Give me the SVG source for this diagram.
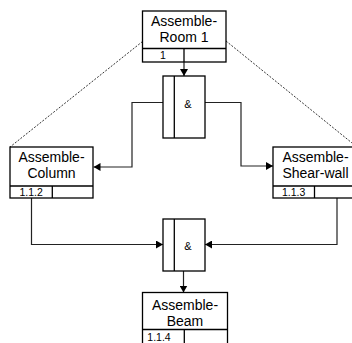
<svg xmlns="http://www.w3.org/2000/svg" width="352" height="343" viewBox="0 0 352 343">
  <defs>
    <marker id="arrow" viewBox="0 0 7 8" refX="7" refY="4" markerWidth="7" markerHeight="8" markerUnits="userSpaceOnUse" orient="auto">
      <path d="M0,0 L7,4 L0,8 Z" fill="#000"/>
    </marker>
  </defs>
  <style>
    .box{fill:#fff;stroke:#000;stroke-width:1.3}
    .rule{fill:none;stroke:#000;stroke-width:1.3}
    .label{font-family:"Liberation Sans",Arial,sans-serif;font-size:14px;text-anchor:middle;fill:#000}
    .num{font-family:"Liberation Sans",Arial,sans-serif;font-size:10.5px;text-anchor:middle;fill:#000}
    .amp{font-family:"Liberation Sans",Arial,sans-serif;font-size:11px;text-anchor:middle;fill:#000}
    .link{fill:none;stroke:#222;stroke-width:1.2}
    .dash{fill:none;stroke:#000;stroke-width:0.8;stroke-dasharray:2 1.5}
  </style>
  <rect width="352" height="343" fill="#fff"/>

  <!-- decomposition guides -->
  <g id="guides">
    <line class="dash" x1="142.5" y1="41.5" x2="10" y2="147"/>
    <line class="dash" x1="226" y1="41" x2="357" y2="147"/>
  </g>

  <!-- connectors -->
  <g id="connectors">
    <line class="link" x1="184" y1="62" x2="184" y2="76" marker-end="url(#arrow)"/>
    <polyline class="link" points="163,102.5 132,102.5 132,167 93.5,167" marker-end="url(#arrow)"/>
    <polyline class="link" points="205,102.5 241,102.5 241,166 273,166" marker-end="url(#arrow)"/>
    <polyline class="link" points="31.5,198 31.5,244.5 163,244.5" marker-end="url(#arrow)"/>
    <polyline class="link" points="337,198 337,244.5 205,244.5" marker-end="url(#arrow)"/>
    <line class="link" x1="183.5" y1="271" x2="183.5" y2="292.5" marker-end="url(#arrow)"/>
  </g>

  <!-- Assemble-Room 1 -->
  <g id="room1">
    <rect class="box" x="142.5" y="11" width="83.5" height="51"/>
    <line class="rule" x1="142.5" y1="48.5" x2="226" y2="48.5"/>
    <line class="rule" x1="184" y1="48.5" x2="184" y2="62"/>
    <text class="label" x="184" y="25.5">Assemble-</text>
    <text class="label" x="184" y="41.5">Room 1</text>
    <text class="num" x="163" y="58.5">1</text>
  </g>

  <!-- AND junction (split) -->
  <g id="and-split">
    <rect class="box" x="163" y="76" width="42" height="62"/>
    <line class="rule" x1="174.3" y1="76" x2="174.3" y2="138"/>
    <text class="amp" x="188" y="108">&amp;</text>
  </g>

  <!-- Assemble-Column -->
  <g id="column">
    <rect class="box" x="10" y="147" width="83" height="51"/>
    <line class="rule" x1="10" y1="186" x2="93" y2="186"/>
    <line class="rule" x1="52.3" y1="186" x2="52.3" y2="198"/>
    <text class="label" x="51.5" y="161.5">Assemble-</text>
    <text class="label" x="51.5" y="178">Column</text>
    <text class="num" x="31.2" y="196">1.1.2</text>
  </g>

  <!-- Assemble-Shear-wall -->
  <g id="shear-wall">
    <rect class="box" x="273" y="147" width="84" height="51"/>
    <line class="rule" x1="273" y1="186" x2="357" y2="186"/>
    <line class="rule" x1="314.5" y1="186" x2="314.5" y2="198"/>
    <text class="label" x="315.5" y="161.5">Assemble-</text>
    <text class="label" x="315.5" y="178">Shear-wall</text>
    <text class="num" x="293.7" y="196">1.1.3</text>
  </g>

  <!-- AND junction (join) -->
  <g id="and-join">
    <rect class="box" x="163" y="219" width="42" height="52"/>
    <line class="rule" x1="174.3" y1="219" x2="174.3" y2="271"/>
    <text class="amp" x="188" y="250">&amp;</text>
  </g>

  <!-- Assemble-Beam -->
  <g id="beam">
    <rect class="box" x="142.5" y="292.5" width="85" height="52"/>
    <line class="rule" x1="142.5" y1="329.5" x2="227.5" y2="329.5"/>
    <line class="rule" x1="184.3" y1="329.5" x2="184.3" y2="344"/>
    <text class="label" x="185" y="309.5">Assemble-</text>
    <text class="label" x="185" y="326">Beam</text>
    <text class="num" x="159" y="340.5">1.1.4</text>
  </g>
</svg>
